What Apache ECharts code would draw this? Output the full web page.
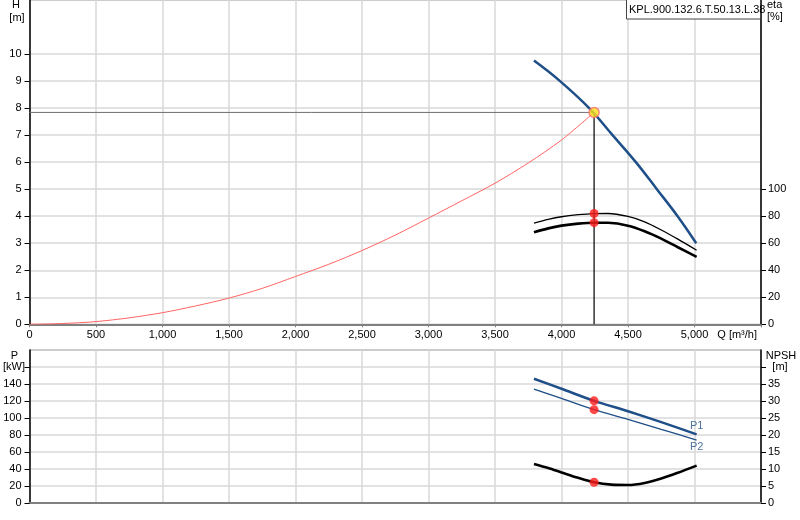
<!DOCTYPE html>
<html><head><meta charset="utf-8">
<script src="https://cdn.jsdelivr.net/npm/echarts@6/dist/echarts.min.js"></script>
<style>html,body{margin:0;padding:0;background:#fff}#c{width:800px;height:520px}</style>
</head><body><div id="c"></div>
<script>
// ---- data ----
const pumpName = 'KPL.900.132.6.T.50.13.L.38';
const opQ = 4245;
const opH = 7.84;
const systemCurve = [[0,0],[250,0.03],[500,0.1],[750,0.24],[1000,0.43],[1250,0.68],[1500,0.97],[1750,1.33],[2000,1.77],[2250,2.22],[2500,2.73],[2750,3.3],[3000,3.93],[3250,4.57],[3500,5.22],[3750,5.97],[4000,6.82],[4245,7.84]];
const headCurve = [[3793,9.76],[3989,9.0],[4208,8.0],[4384,7.0],[4559,6.0],[4717,5.0],[4873,4.0],[5013,3.0]];
const etaUpper = [[3793,74.8],[3900,77.6],[4000,79.6],[4125,81.1],[4245,81.9],[4350,82.0],[4500,79.8],[4625,75.8],[4750,69.8],[4875,63.0],[5016,54.8]];
const etaLower = [[3793,68.1],[3900,71.0],[4000,73.0],[4125,74.5],[4245,75.2],[4350,75.1],[4500,73.0],[4625,68.9],[4750,63.4],[4875,57.0],[5016,49.9]];
const etaDots = [[4245,82.0],[4245,75.2]];
const p1Curve = [[3793,146.2],[4000,134.4],[4245,120.2],[4500,108.0],[4750,95.2],[5016,80.8]];
const p2Curve = [[3793,134.1],[4000,123.0],[4245,109.8],[4500,98.4],[4750,86.6],[5016,74.1]];
const npshCurve = [[3793,11.5],[3900,10.3],[4000,9.0],[4125,7.4],[4245,6.1],[4375,5.4],[4500,5.3],[4625,5.9],[4750,7.2],[4875,8.9],[5016,11.0]];
const p1Op = 120.2, p2Op = 109.8, npshOp = 6.1;
const qMax = 5500, qStep = 500;
const hMax = 12, hLabelMax = 10;
const etaMax = 240, etaLabelMax = 100;
const pMax = 180, pLabelMax = 140, pTickMax = 160;
const npshMax = 45, npshLabelMax = 35, npshTickMax = 40;

const range = (a, b, s) => { const r = []; for (let v = a; v <= b + 1e-9; v += s) r.push(v); return r; };
const font = 'Liberation Sans, Arial, sans-serif';
const blue = '#1f4f88';
const lbl = { color: '#000', fontSize: 11, fontFamily: font };

const chart = echarts.init(document.getElementById('c'), null, { renderer: 'canvas' });
const fmtQ = v => v >= qMax ? '' : v.toLocaleString('en-US');

chart.setOption({
  animation: false,
  grid: [
    { left: 29.5, right: 39, top: 0, height: 324.3, show: true, borderColor: '#999', borderWidth: 1 },
    { left: 29.5, right: 39, top: 350, height: 153, show: true, borderColor: '#999', borderWidth: 1 }
  ],
  xAxis: [
    { type: 'value', gridIndex: 0, min: 0, max: qMax, interval: qStep,
      axisLine: { show: true, onZero: false, lineStyle: { color: '#808080', width: 2 } },
      axisTick: { show: true, length: 3, lineStyle: { color: '#808080' } },
      axisLabel: Object.assign({ margin: 5, formatter: fmtQ }, lbl),
      splitLine: { show: true, lineStyle: { color: '#d9d9d9', width: 1.5 } } },
    { type: 'value', gridIndex: 1, min: 0, max: qMax, interval: qStep,
      axisLine: { show: true, onZero: false, lineStyle: { color: '#808080', width: 2 } },
      axisTick: { show: false },
      axisLabel: { show: false },
      splitLine: { show: true, lineStyle: { color: '#d9d9d9', width: 1.5 } } }
  ],
  yAxis: [
    { type: 'value', gridIndex: 0, min: 0, max: hMax, interval: 1,
      axisLine: { show: true, onZero: false, lineStyle: { color: '#000', width: 1.5 } },
      axisTick: { show: true, length: 5, customValues: range(0, hLabelMax, 1), lineStyle: { color: '#000' } },
      axisLabel: Object.assign({ margin: 8, customValues: range(0, hLabelMax, 1) }, lbl),
      splitLine: { show: true, lineStyle: { color: '#d9d9d9', width: 1.5 } } },
    { type: 'value', gridIndex: 0, position: 'right', min: 0, max: etaMax, interval: 20,
      axisLine: { show: true, onZero: false, lineStyle: { color: '#000', width: 1.5 } },
      axisTick: { show: true, length: 5, customValues: range(0, etaLabelMax, 20), lineStyle: { color: '#000' } },
      axisLabel: Object.assign({ margin: 7, customValues: range(0, etaLabelMax, 20) }, lbl),
      splitLine: { show: false } },
    { type: 'value', gridIndex: 1, min: 0, max: pMax, interval: 20,
      axisLine: { show: true, onZero: false, lineStyle: { color: '#000', width: 1.5 } },
      axisTick: { show: true, length: 5, customValues: range(0, pTickMax, 20), lineStyle: { color: '#000' } },
      axisLabel: Object.assign({ margin: 8, customValues: range(0, pLabelMax, 20) }, lbl),
      splitLine: { show: true, lineStyle: { color: '#d9d9d9', width: 1.5 } } },
    { type: 'value', gridIndex: 1, position: 'right', min: 0, max: npshMax, interval: 5,
      axisLine: { show: true, onZero: false, lineStyle: { color: '#000', width: 1.5 } },
      axisTick: { show: true, length: 5, customValues: range(0, npshTickMax, 5), lineStyle: { color: '#000' } },
      axisLabel: Object.assign({ margin: 7, customValues: range(0, npshLabelMax, 5) }, lbl),
      splitLine: { show: false } }
  ],
  series: [
    { type: 'line', xAxisIndex: 0, yAxisIndex: 0, data: systemCurve, smooth: 0.3, symbol: 'none',
      lineStyle: { color: '#ff6464', width: 1 }, z: 3 },
    { type: 'line', xAxisIndex: 0, yAxisIndex: 0, data: [[0, opH], [opQ, opH]], symbol: 'none',
      lineStyle: { color: '#6e6e6e', width: 1 }, z: 3 },
    { type: 'line', xAxisIndex: 0, yAxisIndex: 0, data: [[opQ, 0], [opQ, opH]], symbol: 'none',
      lineStyle: { color: '#000', width: 1.2 }, z: 3 },
    { type: 'line', xAxisIndex: 0, yAxisIndex: 0, data: headCurve, smooth: 0.4, symbol: 'none',
      lineStyle: { color: blue, width: 2.5 }, z: 4 },
    { type: 'line', xAxisIndex: 0, yAxisIndex: 1, data: etaUpper, smooth: 0.3, symbol: 'none',
      lineStyle: { color: '#000', width: 1.3 }, z: 4 },
    { type: 'line', xAxisIndex: 0, yAxisIndex: 1, data: etaLower, smooth: 0.3, symbol: 'none',
      lineStyle: { color: '#000', width: 2.6 }, z: 4 },
    { type: 'scatter', xAxisIndex: 0, yAxisIndex: 1, data: etaDots, symbolSize: 9,
      itemStyle: { color: '#ff1a1a' }, z: 6 },
    { type: 'scatter', xAxisIndex: 0, yAxisIndex: 0, data: [[opQ, opH]], symbolSize: 10,
      itemStyle: { color: '#ffe01a', borderColor: '#ff7070', borderWidth: 1.5 }, z: 7 },
    { type: 'line', xAxisIndex: 1, yAxisIndex: 2, data: p1Curve, smooth: 0.3, symbol: 'none',
      lineStyle: { color: blue, width: 2.5 }, z: 4 },
    { type: 'line', xAxisIndex: 1, yAxisIndex: 2, data: p2Curve, smooth: 0.3, symbol: 'none',
      lineStyle: { color: blue, width: 1.3 }, z: 4 },
    { type: 'line', xAxisIndex: 1, yAxisIndex: 3, data: npshCurve, smooth: 0.3, symbol: 'none',
      lineStyle: { color: '#000', width: 2.6 }, z: 4 },
    { type: 'scatter', xAxisIndex: 1, yAxisIndex: 2, data: [[opQ, p1Op], [opQ, p2Op]], symbolSize: 9,
      itemStyle: { color: '#ff1a1a' }, z: 6 },
    { type: 'scatter', xAxisIndex: 1, yAxisIndex: 3, data: [[opQ, npshOp]], symbolSize: 9,
      itemStyle: { color: '#ff1a1a' }, z: 6 },
    { type: 'scatter', xAxisIndex: 1, yAxisIndex: 2, symbolSize: 0, z: 6,
      data: [
        { value: p1Curve[p1Curve.length - 1], label: { show: true, position: 'top', distance: 3, formatter: 'P1' } },
        { value: p2Curve[p2Curve.length - 1], label: { show: true, position: 'bottom', distance: 1, formatter: 'P2' } }
      ],
      label: { color: blue, fontSize: 11, fontFamily: font } }
  ],
  graphic: [
    { type: 'text', x: 16, y: 5, style: { text: 'H', fill: '#000', font: '11px ' + font, textAlign: 'center', textVerticalAlign: 'middle' } },
    { type: 'text', x: 17, y: 17.5, style: { text: '[m]', fill: '#000', font: '11px ' + font, textAlign: 'center', textVerticalAlign: 'middle' } },
    { type: 'text', x: 767, y: 5, style: { text: 'eta', fill: '#000', font: '11px ' + font, textAlign: 'left', textVerticalAlign: 'middle' } },
    { type: 'text', x: 767, y: 17, style: { text: '[%]', fill: '#000', font: '11px ' + font, textAlign: 'left', textVerticalAlign: 'middle' } },
    { type: 'text', x: 757, y: 335, style: { text: 'Q [m³/h]', fill: '#000', font: '11px ' + font, textAlign: 'right', textVerticalAlign: 'middle' } },
    { type: 'text', x: 14.5, y: 356, style: { text: 'P', fill: '#000', font: '11px ' + font, textAlign: 'center', textVerticalAlign: 'middle' } },
    { type: 'text', x: 14, y: 367, style: { text: '[kW]', fill: '#000', font: '11px ' + font, textAlign: 'center', textVerticalAlign: 'middle' } },
    { type: 'text', x: 781, y: 355.7, style: { text: 'NPSH', fill: '#000', font: '11px ' + font, textAlign: 'center', textVerticalAlign: 'middle' } },
    { type: 'text', x: 780, y: 366.7, style: { text: '[m]', fill: '#000', font: '11px ' + font, textAlign: 'center', textVerticalAlign: 'middle' } },
    { type: 'rect', shape: { x: 626.5, y: -1, width: 134, height: 20 }, style: { fill: '#fff', stroke: '#444', lineWidth: 1 }, z: 100 },
    { type: 'text', x: 629, y: 9.5, z: 101, style: { text: pumpName, fill: '#000', font: '11px ' + font, textAlign: 'left', textVerticalAlign: 'middle' } }
  ]
});
</script>
</body></html>
